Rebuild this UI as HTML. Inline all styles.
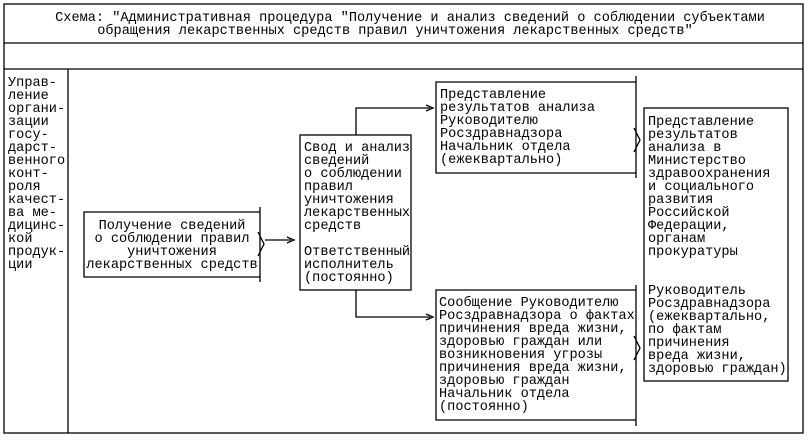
<!DOCTYPE html>
<html><head><meta charset="utf-8"><style>
html,body{margin:0;padding:0;background:#fff}
svg text{font-family:"Liberation Mono",monospace;font-size:13.6px;fill:#000}
</style></head><body>
<svg width="811" height="438" viewBox="0 0 811 438" xmlns="http://www.w3.org/2000/svg">
<g stroke="#000" stroke-width="1.3" fill="none">
<rect x="4" y="4" width="799" height="429"/>
<line x1="4" y1="43" x2="803" y2="43"/>
<line x1="4" y1="69" x2="803" y2="69"/>
<line x1="68" y1="69" x2="68" y2="433"/>
<polyline points="260,212 84,212 84,277 260,277"/>
<line x1="260" y1="207" x2="260" y2="282"/>
<polyline points="258,232 264,244 258,256"/>
<line x1="265" y1="240" x2="291" y2="240"/>
<polyline points="287,237 294,240 287,243"/>
<rect x="300" y="135" width="111" height="155"/>
<polyline points="356,135 356,108 430,108"/>
<polyline points="426,105 433,108 426,111"/>
<polyline points="356,290 356,317 430,317"/>
<polyline points="426,314 433,317 426,320"/>
<polyline points="636,82 436,82 436,173 636,173"/>
<line x1="636" y1="76" x2="636" y2="178"/>
<polyline points="634,128 640,140 634,152"/>
<polyline points="636,290 436,290 436,420 636,420"/>
<line x1="636" y1="285" x2="636" y2="426"/>
<polyline points="634,336 640,348 634,360"/>
<rect x="644" y="108" width="144" height="273"/>
</g>
<text x="410" y="21" text-anchor="middle" xml:space="preserve">Схема: "Административная процедура "Получение и анализ сведений о соблюдении субъектами</text>
<text x="395" y="34" text-anchor="middle" xml:space="preserve">обращения лекарственных средств правил уничтожения лекарственных средств"</text>
<g>
<text x="8" y="86">Управ-</text><text x="8" y="99">ление</text><text x="8" y="112">органи-</text><text x="8" y="125">зации</text><text x="8" y="138">госу-</text><text x="8" y="151">дарст-</text><text x="8" y="164">венного</text><text x="8" y="177">конт-</text><text x="8" y="190">роля</text><text x="8" y="203">качест-</text><text x="8" y="216">ва ме-</text><text x="8" y="229">дицинс-</text><text x="8" y="242">кой</text><text x="8" y="255">продук-</text><text x="8" y="268">ции</text>
</g>
<g text-anchor="middle">
<text x="172" y="229">Получение сведений</text><text x="172" y="242">о соблюдении правил</text><text x="172" y="255">уничтожения</text><text x="172" y="268">лекарственных средств</text>
</g>
<g>
<text x="304" y="151">Свод и анализ</text><text x="304" y="164">сведений</text><text x="304" y="177">о соблюдении</text><text x="304" y="190">правил</text><text x="304" y="203">уничтожения</text><text x="304" y="216">лекарственных</text><text x="304" y="229">средств</text><text x="304" y="255">Ответственный</text><text x="304" y="268">исполнитель</text><text x="304" y="281">(постоянно)</text>
</g>
<g>
<text x="440" y="98">Представление</text><text x="440" y="111">результатов анализа</text><text x="440" y="124">Руководителю</text><text x="440" y="137">Росздравнадзора</text><text x="440" y="150">Начальник отдела</text><text x="440" y="163">(ежеквартально)</text>
</g>
<g>
<text x="439" y="306">Сообщение Руководителю</text><text x="439" y="319">Росздравнадзора о фактах</text><text x="439" y="332">причинения вреда жизни,</text><text x="439" y="345">здоровью граждан или</text><text x="439" y="358">возникновения угрозы</text><text x="439" y="371">причинения вреда жизни,</text><text x="439" y="384">здоровью граждан</text><text x="439" y="397">Начальник отдела</text><text x="439" y="410">(постоянно)</text>
</g>
<g>
<text x="648" y="125">Представление</text><text x="648" y="138">результатов</text><text x="648" y="151">анализа в</text><text x="648" y="164">Министерство</text><text x="648" y="177">здравоохранения</text><text x="648" y="190">и социального</text><text x="648" y="203">развития</text><text x="648" y="216">Российской</text><text x="648" y="229">Федерации,</text><text x="648" y="242">органам</text><text x="648" y="255">прокуратуры</text>
<text x="648" y="294">Руководитель</text><text x="648" y="307">Росздравнадзора</text><text x="648" y="320">(ежеквартально,</text><text x="648" y="333">по фактам</text><text x="648" y="346">причинения</text><text x="648" y="359">вреда жизни,</text><text x="648" y="372">здоровью граждан)</text>
</g>
</svg>
</body></html>
